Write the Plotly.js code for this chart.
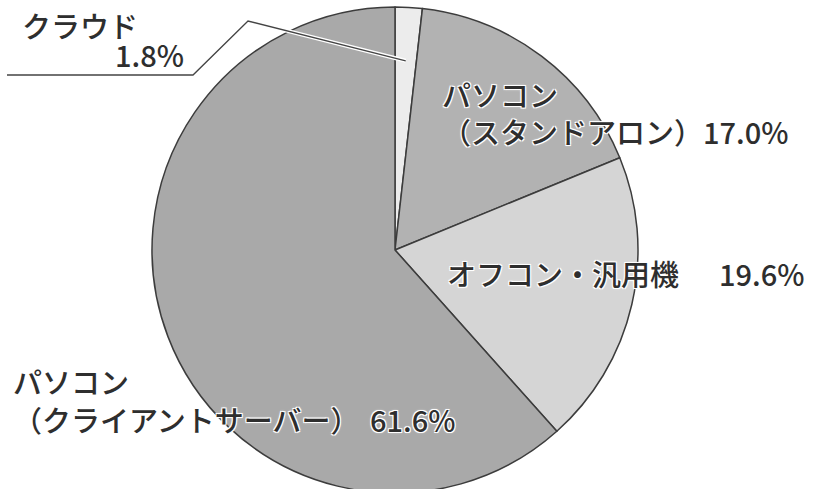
<!DOCTYPE html>
<html>
<head>
<meta charset="utf-8">
<script src="https://cdn.plot.ly/plotly-3.0.1.min.js"></script>
<style>
html, body { margin: 0; padding: 0; overflow: hidden; background: #fff; }
#chart { width: 822px; height: 500px; }
</style>
</head>
<body>
<div id="chart"></div>
<script>
// Data
const categories = ["クラウド", "パソコン（スタンドアロン）", "オフコン・汎用機", "パソコン（クライアントサーバー）"];
const shares = [1.8, 17.0, 19.6, 61.6];
const sliceColors = ["#ececec", "#b2b2b2", "#d5d5d5", "#a9a9a9"];
const nameLines = ["クラウド", "パソコン", "（スタンドアロン）", "オフコン・汎用機", "パソコン", "（クライアントサーバー）"];

const W = 822, H = 500;
const cx = 395, cy = 250, R = 243;
const px = x => x / W;
const py = y => 1 - y / H;

// leader line end at middle angle of first slice
const total = shares.reduce((a, b) => a + b, 0);
const midAng = (shares[0] / 2) / total * 2 * Math.PI;
const endX = cx + 0.78 * R * Math.sin(midAng);
const endY = cy - 0.78 * R * Math.cos(midAng);
const leaderPath = `M ${px(7)} ${py(75)} L ${px(193)} ${py(75)} L ${px(248)} ${py(21)} L ${px(endX)} ${py(endY)}`;

const halo = "-1px -1px 0 #fff, 1px -1px 0 #fff, -1px 1px 0 #fff, 1px 1px 0 #fff, 0 0 3px #fff";
const fnt = { family: "Noto Sans CJK JP", size: 29, color: "#2e2e2e", weight: 500, shadow: halo };

const trace = {
  type: "pie",
  labels: categories,
  values: shares,
  sort: false,
  direction: "clockwise",
  rotation: 0,
  textinfo: "none",
  hoverinfo: "none",
  showlegend: false,
  marker: { colors: sliceColors, line: { color: "#3c3c3c", width: 1.5 } },
  domain: { x: [px(cx - R), px(cx + R)], y: [py(cy + R), py(cy - R)] }
};

// name line placement (pixels)
const namePos = [[20, 25], [440, 94], [440, 131], [445, 273], [11, 381], [11, 419]];
// percentage placement (right edge, centre y), one per category
const pctPos = [[186, 54], [790, 131], [806, 273], [457, 419]];

const annotations = [];
nameLines.forEach((t, i) => annotations.push({
  text: t, x: px(namePos[i][0]), y: py(namePos[i][1]), xanchor: "left", yanchor: "middle",
  xref: "paper", yref: "paper", showarrow: false, font: fnt
}));
shares.forEach((v, i) => annotations.push({
  text: v.toFixed(1) + "%", x: px(pctPos[i][0]), y: py(pctPos[i][1]), xanchor: "right", yanchor: "middle",
  xref: "paper", yref: "paper", showarrow: false, font: fnt
}));

const layout = {
  width: W, height: H,
  margin: { l: 0, r: 0, t: 0, b: 0 },
  paper_bgcolor: "#ffffff",
  showlegend: false,
  shapes: [
    { type: "path", path: leaderPath, xref: "paper", yref: "paper", line: { color: "#ffffff", width: 4 } },
    { type: "path", path: leaderPath, xref: "paper", yref: "paper", line: { color: "#444444", width: 1.3 } }
  ],
  annotations: annotations
};

Plotly.newPlot("chart", [trace], layout, { staticPlot: true, displayModeBar: false });
</script>
</body>
</html>
